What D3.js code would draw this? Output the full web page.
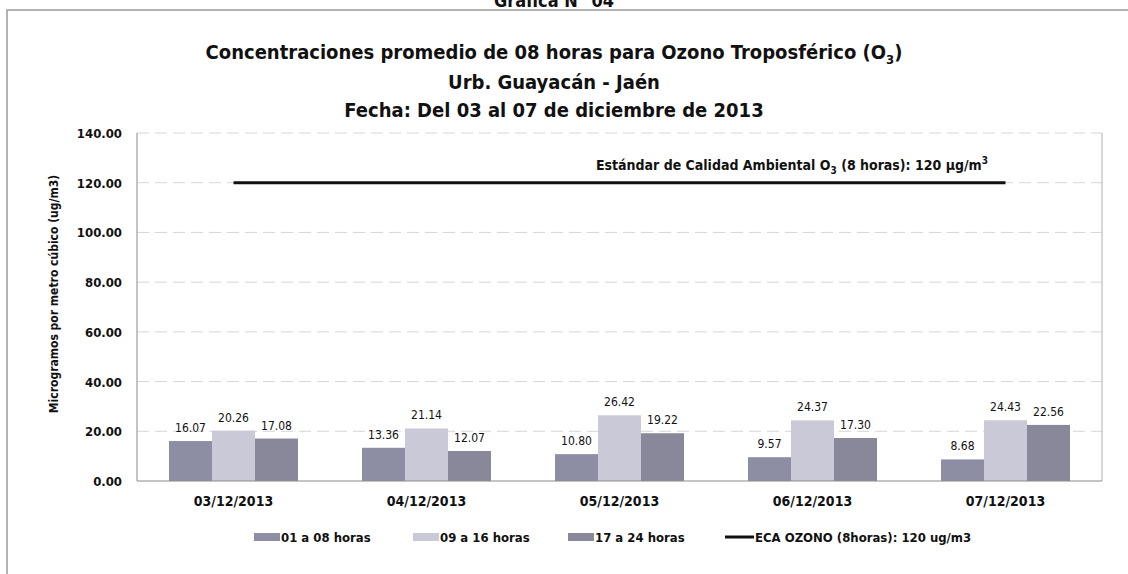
<!DOCTYPE html>
<meta charset="utf-8">
<style>
  body { margin: 0; background: #fff; }
  svg { display: block; }
  text { font-family: "Liberation Sans Narrow", "DejaVu Sans Condensed", "Arial Narrow", sans-serif; fill: #111; }
</style>
<svg width="1128" height="574"></svg>
<script src="https://d3js.org/d3.v7.min.js"></script>
<script>

var categories = ["03/12/2013", "04/12/2013", "05/12/2013", "06/12/2013", "07/12/2013"];
var seriesNames = ["01 a 08 horas", "09 a 16 horas", "17 a 24 horas"];
var h01a08 = [16.07, 13.36, 10.80, 9.57, 8.68];
var h09a16 = [20.26, 21.14, 26.42, 24.37, 24.43];
var h17a24 = [17.08, 12.07, 19.22, 17.30, 22.56];
var ecaValue = 120;
var ecaName = "ECA OZONO (8horas): 120 ug/m3";
var yTicks = [0, 20, 40, 60, 80, 100, 120, 140];

var svg = d3.select("svg");
var margin = {left: 137, right: 1102, top: 133, bottom: 481};
var colors = ["#8d8da4", "#c9c9d8", "#88889a"];
var series = [h01a08, h09a16, h17a24];

// outer frame of the scanned page
svg.append("rect").attr("x", 7).attr("y", 10).attr("width", 1200).attr("height", 700)
  .attr("fill", "none").attr("stroke", "#9a9a9a").attr("stroke-width", 1.5);

svg.append("text").attr("x", 554).attr("y", 7).attr("text-anchor", "middle")
  .style("font-size", "18px").style("font-weight", "bold").text("Gráfica N° 04");

var x0 = d3.scaleBand().domain(categories).range([margin.left, margin.right]);
var x1 = d3.scaleBand().domain([0, 1, 2]).range([0, 129]);
var y = d3.scaleLinear().domain([0, 140]).range([margin.bottom, margin.top]);

// titles
var t1 = svg.append("text").attr("x", 554).attr("y", 59).attr("text-anchor", "middle")
  .style("font-size", "20px").style("font-weight", "bold");
t1.append("tspan").text("Concentraciones promedio de 08 horas para Ozono Troposférico (O");
t1.append("tspan").attr("dy", 5).style("font-size", "13px").text("3");
t1.append("tspan").attr("dy", -5).text(")");
svg.append("text").attr("x", 554).attr("y", 89).attr("text-anchor", "middle")
  .style("font-size", "20px").style("font-weight", "bold").text("Urb. Guayacán - Jaén");
svg.append("text").attr("x", 554).attr("y", 117).attr("text-anchor", "middle")
  .style("font-size", "20px").style("font-weight", "bold").text("Fecha: Del 03 al 07 de diciembre de 2013");

// grid
svg.append("g").selectAll("line").data(yTicks.slice(1)).join("line")
  .attr("x1", margin.left).attr("x2", margin.right)
  .attr("y1", d => y(d)).attr("y2", d => y(d))
  .attr("stroke", "#d6d6d6").attr("stroke-dasharray", "12,6");

// y axis labels
svg.append("g").selectAll("text").data(yTicks).join("text")
  .attr("x", 122).attr("y", d => y(d) + 5).attr("text-anchor", "end")
  .style("font-size", "13px").style("font-weight", "bold")
  .text(d => d.toFixed(2));

svg.append("text").attr("transform", "translate(58,294) rotate(-90)")
  .attr("text-anchor", "middle").style("font-size", "12px").style("font-weight", "bold")
  .text("Microgramos por metro cúbico (ug/m3)");

// bars
series.forEach(function(vals, si) {
  var g = svg.append("g");
  g.selectAll("rect").data(vals).join("rect")
    .attr("x", (d, i) => x0(categories[i]) + (x0.bandwidth() - 129) / 2 + x1(si))
    .attr("y", d => y(d))
    .attr("width", x1.bandwidth())
    .attr("height", d => y(0) - y(d))
    .attr("fill", colors[si]);
  g.selectAll("text").data(vals).join("text")
    .attr("x", (d, i) => x0(categories[i]) + (x0.bandwidth() - 129) / 2 + x1(si) + x1.bandwidth() / 2)
    .attr("y", d => y(d) - 9)
    .attr("text-anchor", "middle").style("font-size", "12px")
    .text(d => d.toFixed(2));
});

// plot border lines
svg.append("line").attr("x1", margin.left).attr("x2", margin.left).attr("y1", margin.top).attr("y2", margin.bottom)
  .attr("stroke", "#8a8a8a");
svg.append("line").attr("x1", margin.right).attr("x2", margin.right).attr("y1", margin.top).attr("y2", margin.bottom)
  .attr("stroke", "#b0b0b0");
svg.append("line").attr("x1", margin.left).attr("x2", margin.right).attr("y1", margin.bottom).attr("y2", margin.bottom)
  .attr("stroke", "#8a8a8a");

// ECA line
svg.append("path")
  .datum(categories)
  .attr("d", d3.line().x(d => x0(d) + x0.bandwidth() / 2).y(() => y(ecaValue)))
  .attr("stroke", "#111").attr("stroke-width", 3).attr("fill", "none");

var et = svg.append("text").attr("x", 988).attr("y", 170).attr("text-anchor", "end")
  .style("font-size", "14px").style("font-weight", "bold");
et.append("tspan").text("Estándar de Calidad Ambiental  O");
et.append("tspan").attr("dy", 4).style("font-size", "10px").text("3");
et.append("tspan").attr("dy", -4).text(" (8 horas): 120 µg/m");
et.append("tspan").attr("dy", -6).style("font-size", "10px").text("3");

// x labels
svg.append("g").selectAll("text").data(categories).join("text")
  .attr("x", d => x0(d) + x0.bandwidth() / 2).attr("y", 506).attr("text-anchor", "middle")
  .style("font-size", "14px").style("font-weight", "bold").text(d => d);

// legend
var legX = [254, 413, 568];
seriesNames.forEach(function(n, i) {
  svg.append("rect").attr("x", legX[i]).attr("y", 533).attr("width", 26).attr("height", 8).attr("fill", colors[i]);
  svg.append("text").attr("x", legX[i] + 27).attr("y", 542)
    .style("font-size", "13px").style("font-weight", "bold").text(n);
});
svg.append("line").attr("x1", 725).attr("x2", 754).attr("y1", 537).attr("y2", 537)
  .attr("stroke", "#111").attr("stroke-width", 3);
svg.append("text").attr("x", 755).attr("y", 542)
  .style("font-size", "13px").style("font-weight", "bold").text(ecaName);

</script>
